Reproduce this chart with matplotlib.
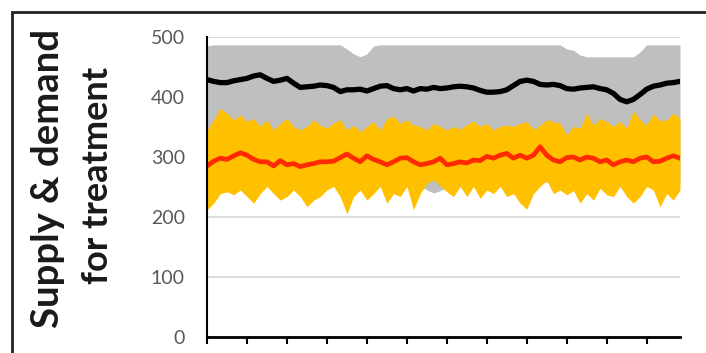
import numpy as np
import matplotlib
matplotlib.use("Agg")
import matplotlib.pyplot as plt
from matplotlib.patches import Rectangle

# category index (days), one reading every 5 days
days = np.arange(0, 356, 5)

# grey band: envelope of the demand runs
demand_high = [485, 487, 487, 487, 487, 487, 487, 487, 487, 487, 487, 487, 487, 487, 487, 487, 487, 487,
               487, 487, 487, 480, 472, 467, 472, 485, 487, 487, 487, 487, 487, 487, 487, 487, 487, 487,
               487, 487, 487, 487, 487, 487, 487, 487, 487, 487, 487, 487, 487, 487, 487, 487, 487, 487,
               480, 478, 470, 467, 467, 467, 467, 467, 467, 467, 467, 475, 487, 487, 487, 487, 487, 487]
demand_low = [258, 258, 258, 258, 258, 258, 258, 258, 258, 258, 258, 258, 258, 258, 258, 258, 258, 258,
              258, 258, 258, 258, 258, 258, 258, 258, 258, 258, 258, 258, 258, 258, 252, 245, 240, 244,
              250, 258, 258, 258, 258, 258, 258, 258, 258, 258, 258, 258, 258, 258, 258, 258, 258, 258,
              258, 258, 258, 258, 258, 258, 258, 258, 258, 258, 258, 258, 258, 258, 258, 258, 258, 258]

# yellow band: envelope of the supply runs
supply_high = [345, 362, 381, 373, 362, 370, 359, 364, 351, 362, 345, 356, 364, 351, 345, 351, 362, 353,
               348, 357, 362, 345, 353, 342, 351, 359, 345, 364, 368, 356, 362, 353, 351, 345, 356, 351,
               345, 351, 346, 354, 360, 351, 356, 345, 351, 353, 351, 356, 359, 346, 353, 362, 359, 356,
               337, 351, 348, 373, 353, 364, 359, 351, 359, 348, 377, 362, 353, 372, 360, 362, 373, 364]
supply_low = [212, 223, 239, 242, 237, 245, 234, 223, 239, 251, 239, 228, 234, 245, 234, 217, 228, 234,
              245, 251, 234, 205, 234, 245, 228, 239, 251, 223, 239, 234, 251, 212, 239, 256, 262, 252,
              242, 234, 251, 234, 251, 231, 245, 239, 251, 234, 239, 223, 213, 239, 251, 261, 239, 245,
              237, 244, 223, 239, 228, 248, 237, 234, 251, 234, 223, 234, 251, 245, 217, 239, 228, 245]

# mean lines
demand_mean = [429, 426, 424, 424, 427, 429, 431, 435, 437, 431, 426, 428, 431, 423, 416, 417, 418, 420,
               419, 416, 409, 412, 412, 413, 410, 414, 418, 419, 414, 412, 414, 410, 414, 413, 416, 414,
               415, 417, 418, 417, 415, 411, 408, 408, 409, 412, 419, 426, 428, 426, 421, 420, 421, 419,
               414, 413, 415, 416, 417, 414, 412, 406, 396, 392, 396, 404, 413, 418, 420, 423, 424, 426]
supply_mean = [285, 293, 298, 296, 302, 307, 303, 296, 292, 292, 285, 294, 287, 289, 284, 287, 289, 292,
               292, 293, 299, 305, 298, 292, 302, 296, 292, 287, 292, 298, 299, 292, 287, 289, 292, 298,
               287, 289, 292, 290, 295, 294, 301, 298, 303, 306, 298, 303, 298, 303, 317, 303, 295, 292,
               299, 300, 295, 300, 298, 292, 295, 287, 292, 295, 292, 298, 300, 292, 293, 298, 302, 298]

y_ticks = [0, 100, 200, 300, 400, 500]
x_ticks = list(range(0, 331, 30))

plt.rcParams['font.family'] = ['Lato', 'DejaVu Sans']

fig = plt.figure(figsize=(7.06, 3.53), dpi=100)
ax = fig.add_axes([207 / 706, 1 - 337 / 353, 473 / 706, 300 / 353])

ax.fill_between(days, demand_low, demand_high, color='#BFBFBF', lw=0)
ax.fill_between(days, supply_low, supply_high, color='#FFC000', lw=0)
ax.plot(days, demand_mean, color='black', lw=3.8, solid_joinstyle='round')
ax.plot(days, supply_mean, color='#FF2A00', lw=3.4, solid_joinstyle='round')

ax.set_xlim(0, 355)
ax.set_ylim(0, 500)
ax.set_yticks(y_ticks)
ax.set_xticks(x_ticks)
ax.set_xticklabels([])
ax.yaxis.grid(True, color='#D9D9D9', lw=1.3)
ax.set_axisbelow(True)

ax.tick_params(axis='x', direction='out', length=5, width=1.5, color='black')
ax.tick_params(axis='y', length=0, pad=16, labelsize=14, labelcolor='#595959')

for side in ['top', 'right']:
    ax.spines[side].set_visible(False)
ax.spines['left'].set_linewidth(1.5)
ax.spines['bottom'].set_linewidth(2)

# axis title in two lines
fig.text(48 / 706, 1 - 178 / 353, 'Supply & demand', rotation=90, fontsize=27.5,
         fontweight='bold', ha='center', va='center', color='#1a1a1a')
fig.text(98 / 706, 1 - 175 / 353, 'for treatment', rotation=90, fontsize=26,
         fontweight='bold', ha='center', va='center', color='#1a1a1a')

# outer chart frame (cropped on right and bottom)
fig.patches.append(Rectangle((12 / 706, -0.1), 1.0, 1.1 - 12 / 353, transform=fig.transFigure,
                             fill=False, ec='#222222', lw=2))

fig.savefig('out.png', dpi=100)
